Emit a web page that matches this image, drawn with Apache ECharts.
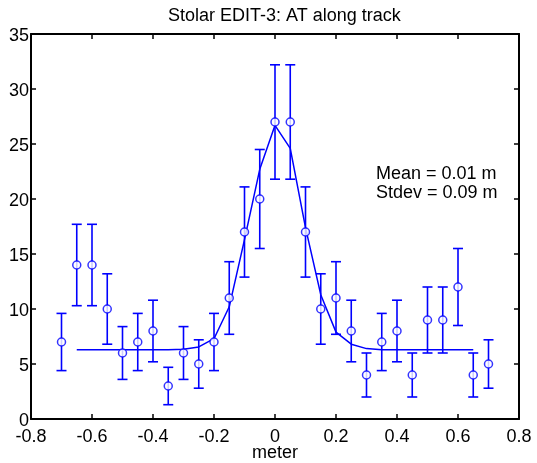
<!DOCTYPE html>
<html>
<head>
<meta charset="utf-8">
<script src="https://cdn.jsdelivr.net/npm/echarts@6/dist/echarts.min.js"></script>
<style>
html,body{margin:0;padding:0;background:#fff;}
#chart{width:537px;height:463px;}
</style>
</head>
<body>
<div id="chart"></div>
<script>
var xValues = [-0.7, -0.65, -0.6, -0.55, -0.5, -0.45, -0.4, -0.35, -0.3, -0.25, -0.2, -0.15, -0.1, -0.05, 0, 0.05, 0.1, 0.15, 0.2, 0.25, 0.3, 0.35, 0.4, 0.45, 0.5, 0.55, 0.6, 0.65, 0.7];
var counts = [7, 14, 14, 10, 6, 7, 8, 3, 6, 5, 7, 11, 17, 20, 27, 27, 17, 10, 11, 8, 4, 7, 8, 4, 9, 9, 12, 4, 5];
var errors = [2.6, 3.7, 3.7, 3.2, 2.4, 2.6, 2.8, 1.7, 2.4, 2.2, 2.6, 3.3, 4.1, 4.5, 5.2, 5.2, 4.1, 3.2, 3.3, 2.8, 2.0, 2.6, 2.8, 2.0, 3.0, 3.0, 3.5, 2.0, 2.2];
var fitX = [-0.65, -0.6, -0.55, -0.5, -0.45, -0.4, -0.35, -0.3, -0.25, -0.2, -0.15, -0.1, -0.05, 0, 0.05, 0.1, 0.15, 0.2, 0.25, 0.3, 0.35, 0.4, 0.45, 0.5, 0.55, 0.6, 0.65];
var fitY = [6.3, 6.3, 6.3, 6.3, 6.3, 6.3, 6.3, 6.35, 6.55, 7.3, 10.2, 16.3, 22.7, 26.7, 24.6, 17.4, 11.3, 7.9, 6.8, 6.4, 6.3, 6.3, 6.3, 6.3, 6.3, 6.3, 6.3];
var xTicks = {min: -0.8, max: 0.8, interval: 0.2};
var yTicks = {min: 0, max: 35, interval: 5};
var titleText = 'Stolar EDIT-3: AT along track';
var xName = 'meter';
var statsText = ['Mean = 0.01 m', 'Stdev = 0.09 m'];

var FONT = '"Liberation Sans", Arial, Helvetica, sans-serif';
var BLUE = '#0000ff';

var points = xValues.map(function (x, i) { return [x, counts[i]]; });
var errData = xValues.map(function (x, i) { return [x, counts[i] - errors[i], counts[i] + errors[i]]; });
var fitData = fitX.map(function (x, i) { return [x, fitY[i]]; });

function fmtX(v) {
  var r = Math.round(v * 10) / 10;
  return r === 0 ? '0' : String(r);
}

var chart = echarts.init(document.getElementById('chart'), null, {renderer: 'canvas'});
var axisLineStyle = {color: '#000', width: 2};
var option = {
  animation: false,
  backgroundColor: '#fff',
  textStyle: {fontFamily: FONT},
  grid: {left: 31, right: 18, top: 34, bottom: 44, containLabel: false, outerBoundsMode: 'none'},
  xAxis: [
    {
      type: 'value', position: 'bottom',
      min: xTicks.min, max: xTicks.max, interval: xTicks.interval,
      name: xName, nameLocation: 'middle', nameGap: 25, nameMoveOverlap: false,
      nameTextStyle: {fontSize: 18, color: '#000', fontFamily: FONT, verticalAlign: 'top'},
      axisLine: {show: true, onZero: false, lineStyle: axisLineStyle},
      axisTick: {show: true, inside: true, length: 5, lineStyle: {color: '#000', width: 1.5}},
      axisLabel: {show: true, margin: 9, fontSize: 18, color: '#000', fontFamily: FONT, formatter: fmtX},
      splitLine: {show: false}
    },
    {
      type: 'value', position: 'top',
      min: xTicks.min, max: xTicks.max, interval: xTicks.interval,
      axisLine: {show: true, onZero: false, lineStyle: axisLineStyle},
      axisTick: {show: true, inside: true, length: 5, lineStyle: {color: '#000', width: 1.5}},
      axisLabel: {show: false},
      splitLine: {show: false}
    }
  ],
  yAxis: [
    {
      type: 'value', position: 'left',
      min: yTicks.min, max: yTicks.max, interval: yTicks.interval,
      axisLine: {show: true, onZero: false, lineStyle: axisLineStyle},
      axisTick: {show: true, inside: true, length: 5, lineStyle: {color: '#000', width: 1.5}},
      axisLabel: {show: true, margin: 2, fontSize: 18, color: '#000', fontFamily: FONT, verticalAlign: 'top', lineHeight: 5},
      splitLine: {show: false}
    },
    {
      type: 'value', position: 'right',
      min: yTicks.min, max: yTicks.max, interval: yTicks.interval,
      axisLine: {show: true, onZero: false, lineStyle: axisLineStyle},
      axisTick: {show: true, inside: true, length: 5, lineStyle: {color: '#000', width: 1.5}},
      axisLabel: {show: false},
      splitLine: {show: false}
    }
  ],
  graphic: [
    {
      type: 'text', left: 168, top: 7, z: 100,
      style: {text: titleText, font: '18px ' + FONT, fill: '#000'}
    },
    {
      type: 'text', left: 376, top: 165, z: 100,
      style: {text: statsText.join('\n'), font: '18px ' + FONT, fill: '#000', lineHeight: 19}
    }
  ],
  series: [
    {
      type: 'custom',
      xAxisIndex: 0, yAxisIndex: 0,
      data: errData,
      z: 2,
      renderItem: function (params, api) {
        var x = api.value(0);
        var lo = api.coord([x, api.value(1)]);
        var hi = api.coord([x, api.value(2)]);
        var hw = 5;
        var style = {stroke: BLUE, lineWidth: 1.6, fill: null};
        return {
          type: 'group',
          children: [
            {type: 'line', shape: {x1: lo[0], y1: lo[1], x2: hi[0], y2: hi[1]}, style: style},
            {type: 'line', shape: {x1: lo[0] - hw, y1: lo[1], x2: lo[0] + hw, y2: lo[1]}, style: style},
            {type: 'line', shape: {x1: hi[0] - hw, y1: hi[1], x2: hi[0] + hw, y2: hi[1]}, style: style}
          ]
        };
      }
    },
    {
      type: 'line',
      xAxisIndex: 0, yAxisIndex: 0,
      data: fitData,
      showSymbol: false,
      symbol: 'none',
      z: 3,
      lineStyle: {color: BLUE, width: 1.5}
    },
    {
      type: 'scatter',
      xAxisIndex: 0, yAxisIndex: 0,
      data: points,
      symbol: 'circle',
      symbolSize: 8,
      z: 4,
      itemStyle: {color: '#fff', borderColor: BLUE, borderWidth: 1.5}
    }
  ]
};
chart.setOption(option);
</script>
</body>
</html>
